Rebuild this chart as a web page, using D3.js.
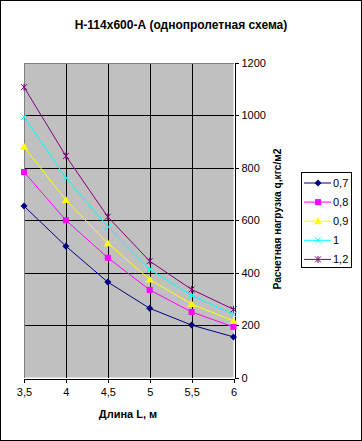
<!DOCTYPE html>
<html>
<head>
<meta charset="utf-8">
<script src="https://d3js.org/d3.v7.min.js"></script>
<style>
  body { margin: 0; background: #fff; }
  text { font-family: "Liberation Sans", Arial, sans-serif; }
</style>
</head>
<body>
<div id="chart"></div>
<script>
// span lengths, m
var lengths = [3.5, 4, 4.5, 5, 5.5, 6];
// series names (legend)
var seriesNames = ["0,7", "0,8", "0,9", "1", "1,2"];
// load values, kgf/m2
var s07 = [654, 501, 364, 264, 200, 155];
var s08 = [784, 600, 457, 334, 250, 193];
var s09 = [880, 677, 512, 374, 280, 216];
var s10 = [994, 762, 575, 413, 313, 241];
var s12 = [1108, 845, 613, 444, 336, 260];
var yTicks = [0, 200, 400, 600, 800, 1000, 1200];
var xTickLabels = ["3,5", "4", "4,5", "5", "5,5", "6"];

var colors = ["#000080", "#FF00FF", "#FFFF00", "#00FFFF", "#800080"];
var markers = ["diamond", "square", "triangle", "cross", "star"];
var allSeries = [s07, s08, s09, s10, s12];

var W = 362, H = 441;
var plot = {left: 24, top: 63, right: 233.5, bottom: 377.5};

var svg = d3.select("#chart").append("svg")
    .attr("width", W).attr("height", H);

// outer frame
svg.append("rect")
    .attr("x", 0.5).attr("y", 0.5)
    .attr("width", W - 1).attr("height", H - 1)
    .attr("fill", "#fff").attr("stroke", "#000");

var x = d3.scaleLinear().domain([3.5, 6]).range([plot.left, plot.right]);
var y = d3.scaleLinear().domain([0, 1200]).range([plot.bottom, plot.top]);

// plot background
svg.append("rect")
    .attr("x", plot.left).attr("y", plot.top)
    .attr("width", plot.right - plot.left).attr("height", plot.bottom - plot.top)
    .attr("fill", "#C0C0C0");

// grid
var grid = svg.append("g").attr("shape-rendering", "crispEdges");
grid.selectAll("line.h").data(yTicks.slice(1, -1)).enter().append("line")
    .attr("x1", plot.left).attr("x2", plot.right)
    .attr("y1", function(d) { return Math.round(y(d)) + 0.5; })
    .attr("y2", function(d) { return Math.round(y(d)) + 0.5; })
    .attr("stroke", "#000");
grid.selectAll("line.v").data(lengths.slice(1, -1)).enter().append("line")
    .attr("y1", plot.top).attr("y2", plot.bottom)
    .attr("x1", function(d) { return Math.round(x(d)) + 0.5; })
    .attr("x2", function(d) { return Math.round(x(d)) + 0.5; })
    .attr("stroke", "#000");

// plot border top/left in gray
grid.append("line")
    .attr("x1", plot.left).attr("x2", plot.right)
    .attr("y1", plot.top + 0.5).attr("y2", plot.top + 0.5)
    .attr("stroke", "#808080");
grid.append("line")
    .attr("x1", plot.left + 0.5).attr("x2", plot.left + 0.5)
    .attr("y1", plot.top).attr("y2", plot.bottom)
    .attr("stroke", "#808080");

// right axis
var yAxis = svg.append("g")
    .attr("transform", "translate(" + (Math.round(plot.right) + 0.5) + ",0)")
    .call(d3.axisRight(y).tickValues(yTicks).tickSize(4).tickPadding(3)
        .tickFormat(d3.format("d")));
yAxis.select(".domain").attr("stroke", "#000").attr("shape-rendering", "crispEdges");
yAxis.selectAll(".tick line").attr("shape-rendering", "crispEdges");
yAxis.selectAll("text").attr("font-size", 11).attr("fill", "#000")
    .style("font-family", "Liberation Sans, Arial, sans-serif");

// bottom axis
var xAxis = svg.append("g")
    .attr("transform", "translate(0," + (Math.round(plot.bottom) + 0.5) + ")")
    .call(d3.axisBottom(x).tickValues(lengths).tickSize(4).tickPadding(6)
        .tickFormat(function(d, i) { return xTickLabels[i]; }));
xAxis.select(".domain").attr("stroke", "#000").attr("shape-rendering", "crispEdges");
xAxis.selectAll(".tick line").attr("shape-rendering", "crispEdges");
xAxis.selectAll("text").attr("font-size", 11).attr("fill", "#000")
    .style("font-family", "Liberation Sans, Arial, sans-serif");

// marker drawing
function drawMarker(g, type, color, cx, cy) {
  if (type === "diamond") {
    g.append("path").attr("d", "M" + cx + "," + (cy - 3.5) + "L" + (cx + 3.5) + "," + cy +
        "L" + cx + "," + (cy + 3.5) + "L" + (cx - 3.5) + "," + cy + "Z").attr("fill", color);
  } else if (type === "square") {
    g.append("rect").attr("x", cx - 3).attr("y", cy - 3).attr("width", 6).attr("height", 6)
        .attr("fill", color);
  } else if (type === "triangle") {
    g.append("path").attr("d", "M" + cx + "," + (cy - 4) + "L" + (cx + 4) + "," + (cy + 3) +
        "L" + (cx - 4) + "," + (cy + 3) + "Z").attr("fill", color);
  } else if (type === "cross") {
    g.append("path").attr("d", "M" + (cx - 3) + "," + (cy - 3) + "L" + (cx + 3) + "," + (cy + 3) +
        "M" + (cx + 3) + "," + (cy - 3) + "L" + (cx - 3) + "," + (cy + 3))
        .attr("stroke", color).attr("stroke-width", 1).attr("fill", "none");
  } else {
    g.append("path").attr("d", "M" + (cx - 3) + "," + (cy - 3) + "L" + (cx + 3) + "," + (cy + 3) +
        "M" + (cx + 3) + "," + (cy - 3) + "L" + (cx - 3) + "," + (cy + 3) +
        "M" + cx + "," + (cy - 3.5) + "L" + cx + "," + (cy + 3.5))
        .attr("stroke", color).attr("stroke-width", 1).attr("fill", "none");
  }
}

var line = d3.line()
    .x(function(d, i) { return x(lengths[i]); })
    .y(function(d) { return y(d); });

var series = svg.append("g");
allSeries.forEach(function(vals, k) {
  var g = series.append("g");
  g.append("path").datum(vals)
      .attr("d", line)
      .attr("fill", "none")
      .attr("stroke", colors[k])
      .attr("stroke-width", 1);
  vals.forEach(function(v, i) {
    drawMarker(g, markers[k], colors[k], x(lengths[i]), y(v));
  });
});

// title
svg.append("text")
    .attr("x", 181).attr("y", 29)
    .attr("text-anchor", "middle")
    .attr("font-size", 12).attr("font-weight", "bold")
    .text("Н-114х600-А (однопролетная схема)");

// x axis title
svg.append("text")
    .attr("x", 128).attr("y", 418)
    .attr("text-anchor", "middle")
    .attr("font-size", 11).attr("font-weight", "bold")
    .text("Длина L, м");

// y axis title
svg.append("text")
    .attr("transform", "translate(280.5,219) rotate(-90)")
    .attr("text-anchor", "middle")
    .attr("font-size", 10.2).attr("font-weight", "bold")
    .text("Расчетная нагрузка q,кгс/м2");

// legend
var legend = svg.append("g");
legend.append("rect")
    .attr("x", 301.5).attr("y", 172.5)
    .attr("width", 50).attr("height", 95)
    .attr("fill", "#fff").attr("stroke", "#000");
seriesNames.forEach(function(name, k) {
  var ly = 183 + k * 19.1;
  var g = legend.append("g");
  g.append("line")
      .attr("x1", 304).attr("x2", 331)
      .attr("y1", ly).attr("y2", ly)
      .attr("stroke", colors[k]);
  drawMarker(g, markers[k], colors[k], 318, ly);
  g.append("text")
      .attr("x", 333).attr("y", ly + 4)
      .attr("font-size", 11)
      .text(name);
});
</script>
</body>
</html>
